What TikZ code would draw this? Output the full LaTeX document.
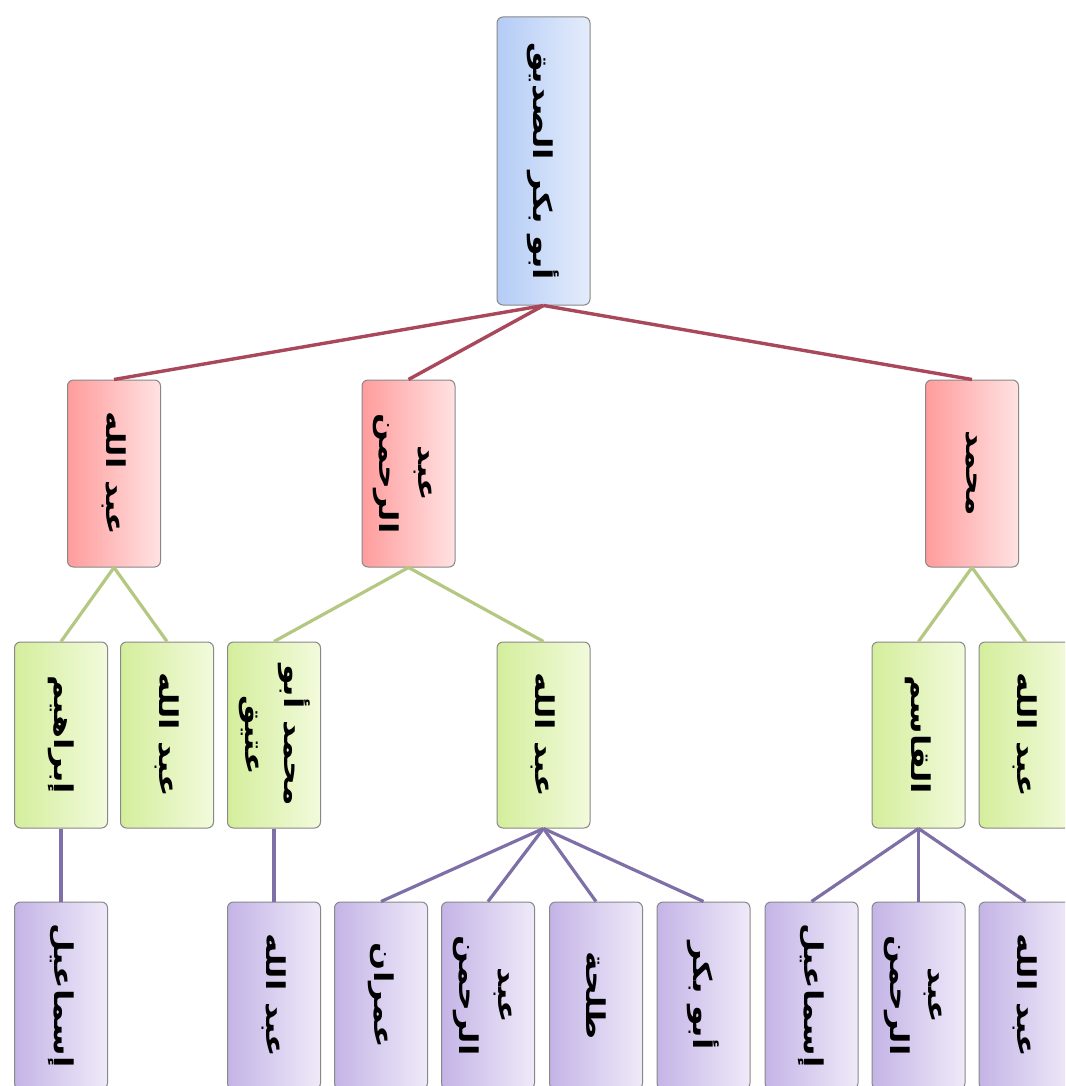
\documentclass[tikz,border=0pt]{standalone}
\usepackage{fontspec}
\usepackage{graphicx}
\TeXXeTstate=1
\newfontfamily\arabicfont[Script=Arabic]{DejaVu Sans}
\newcommand{\ar}[1]{\beginR #1\endR}
\newcommand{\vt}[1]{\rotatebox{-90}{\scalebox{1.38}[1.08]{\arabicfont\bfseries\fontsize{24}{42}\selectfont #1}}}
\newcommand{\vtt}[2]{\rotatebox{-90}{\scalebox{1.38}[1.08]{\arabicfont\bfseries\fontsize{24}{42}\selectfont\begin{tabular}{@{}c@{}}\ar{#1}\\[-6pt]\ar{#2}\end{tabular}}}}
\definecolor{boxgray}{HTML}{888888}
\definecolor{blueL}{HTML}{B4CCF6}
\definecolor{blueR}{HTML}{E4ECFB}
\definecolor{redL}{HTML}{FF9C9C}
\definecolor{redR}{HTML}{FFE2E2}
\definecolor{greenL}{HTML}{D4EE9C}
\definecolor{greenR}{HTML}{F2FADC}
\definecolor{purpL}{HTML}{C4B4E6}
\definecolor{purpR}{HTML}{EFEAF9}
\definecolor{redline}{HTML}{A8485A}
\definecolor{greenline}{HTML}{B4C882}
\definecolor{purpline}{HTML}{7E70A6}
\tikzset{
  box/.style={draw=boxgray, line width=1pt, rounded corners=6pt, minimum width=93pt, inner sep=0pt},
  topbox/.style={box, left color=blueL, right color=blueR, minimum height=288pt},
  lvtwo/.style={box, left color=redL, right color=redR, minimum height=187pt},
  lvthree/.style={box, left color=greenL, right color=greenR, minimum height=186pt},
  lvfour/.style={box, left color=purpL, right color=purpR, minimum height=187pt},
  redcon/.style={draw=redline, line width=3.4pt},
  greencon/.style={draw=greenline, line width=3.2pt},
  purpcon/.style={draw=purpline, line width=3.2pt}
}
\begin{document}
\begin{tikzpicture}[x=1pt,y=-1pt]
\useasboundingbox (0,0) rectangle (1065,1086);
\clip (0,0) rectangle (1065,1086);
\fill[white] (0,0) rectangle (1065,1086);
% level 1
\node[topbox] (root) at (543.5,161) {\vt{\ar{أبو بكر الصديق}}};
% level 2
\node[lvtwo] (abdallah) at (114,473.5) {\vt{\ar{عبد الله}}};
\node[lvtwo] (abdrahman) at (408.5,473.5) {\vtt{عبد}{الرحمن}};
\node[lvtwo] (muhammad) at (972,473.5) {\vt{\ar{محمد}}};
% level 3
\node[lvthree] (ibrahim) at (61,735) {\vt{\ar{إبراهيم}}};
\node[lvthree] (abdallahB) at (167,735) {\vt{\ar{عبد الله}}};
\node[lvthree] (atiq) at (274,735) {\vtt{محمد أبو}{عتيق}};
\node[lvthree] (abdallahC) at (543.5,735) {\vt{\ar{عبد الله}}};
\node[lvthree] (qasim) at (918.5,735) {\vt{\ar{القاسم}}};
\node[lvthree] (abdallahD) at (1025.5,735) {\vt{\ar{عبد الله}}};
% level 4
\node[lvfour] (ismailA) at (61,995.5) {\vt{\ar{إسماعيل}}};
\node[lvfour] (abdallahE) at (274,995.5) {\vt{\ar{عبد الله}}};
\node[lvfour] (imran) at (381,995.5) {\vt{\ar{عمران}}};
\node[lvfour] (abdrahmanB) at (488,995.5) {\vtt{عبد}{الرحمن}};
\node[lvfour] (talha) at (596,995.5) {\vt{\ar{طلحة}}};
\node[lvfour] (abubakr) at (703.5,995.5) {\vt{\ar{أبو بكر}}};
\node[lvfour] (ismailB) at (811.5,995.5) {\vt{\ar{إسماعيل}}};
\node[lvfour] (abdrahmanC) at (918.5,995.5) {\vtt{عبد}{الرحمن}};
\node[lvfour] (abdallahF) at (1025.5,995.5) {\vt{\ar{عبد الله}}};
% connectors
\draw[redcon] (root.south) -- (abdallah.north);
\draw[redcon] (root.south) -- (abdrahman.north);
\draw[redcon] (root.south) -- (muhammad.north);
\draw[greencon] (abdallah.south) -- (ibrahim.north);
\draw[greencon] (abdallah.south) -- (abdallahB.north);
\draw[greencon] (abdrahman.south) -- (atiq.north);
\draw[greencon] (abdrahman.south) -- (abdallahC.north);
\draw[greencon] (muhammad.south) -- (qasim.north);
\draw[greencon] (muhammad.south) -- (abdallahD.north);
\draw[purpcon] (ibrahim.south) -- (ismailA.north);
\draw[purpcon] (atiq.south) -- (abdallahE.north);
\draw[purpcon] (abdallahC.south) -- (imran.north);
\draw[purpcon] (abdallahC.south) -- (abdrahmanB.north);
\draw[purpcon] (abdallahC.south) -- (talha.north);
\draw[purpcon] (abdallahC.south) -- (abubakr.north);
\draw[purpcon] (qasim.south) -- (ismailB.north);
\draw[purpcon] (qasim.south) -- (abdrahmanC.north);
\draw[purpcon] (qasim.south) -- (abdallahF.north);
\end{tikzpicture}
\end{document}
